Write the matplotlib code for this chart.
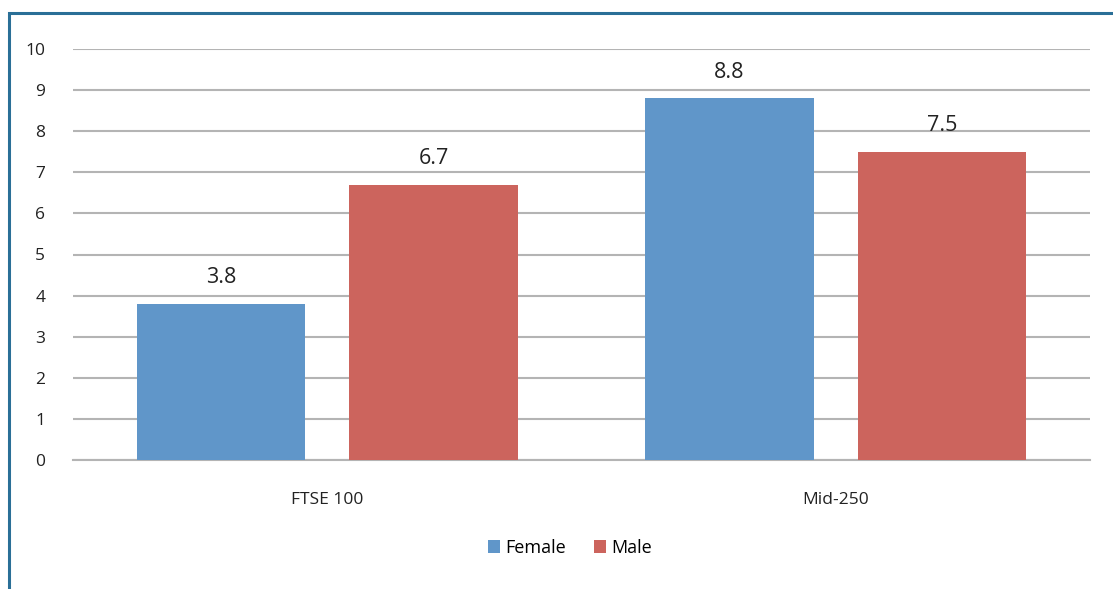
import numpy as np
import matplotlib.pyplot as plt
from matplotlib.patches import Rectangle

plt.rcParams['font.family'] = ['Open Sans', 'DejaVu Sans']

categories = ['FTSE 100', 'Mid-250']
female = [3.8, 8.8]
male = [6.7, 7.5]
series_names = ['Female', 'Male']

blue = '#6096c9'
red = '#cc645d'

fig = plt.figure(figsize=(11.13, 5.89), dpi=100)
ax = fig.add_axes([73 / 1113, 1 - 460 / 589, 1017 / 1113, 411 / 589])

x = np.arange(len(categories))
w = 0.332
b1 = ax.bar(x - 0.209, female, w, color=blue, label=series_names[0], zorder=3)
b2 = ax.bar(x + 0.209, male, w, color=red, label=series_names[1], zorder=3)

for bars, vals in [(b1, female), (b2, male)]:
    for rect, v in zip(bars, vals):
        ax.text(rect.get_x() + rect.get_width() / 2, v + 0.38, f'{v}',
                ha='center', va='bottom', fontsize=15.5, color='#222222')

ax.set_xlim(-0.5, 1.5)
ax.set_ylim(0, 10)
ax.set_yticks(range(0, 11))
ax.yaxis.grid(True, color='#b4b4b4', linewidth=1.5, zorder=0)
ax.set_xticks(x)
ax.set_xticklabels(categories)
ax.tick_params(axis='both', length=0, labelsize=12.5, colors='#222222')
ax.tick_params(axis='x', pad=23)
ax.tick_params(axis='y', pad=20)
for s in ['top', 'right', 'left']:
    ax.spines[s].set_visible(False)
ax.spines['bottom'].set_color('#b4b4b4')
ax.spines['bottom'].set_linewidth(1.5)

fig.legend(handles=[b1, b2], labels=series_names, loc='center',
           bbox_to_anchor=(570 / 1113, 1 - 548 / 589), ncol=2, frameon=False,
           fontsize=13, handlelength=0.7, handleheight=0.7, handletextpad=0.3,
           columnspacing=1.5)

# outer border (left and top edges of the chart frame)
fig.add_artist(Rectangle((9 / 1113, -0.1), 1.2, 1 - 12.5 / 589 + 0.1,
                         transform=fig.transFigure, fill=False,
                         edgecolor='#2a6f97', linewidth=2.2))

fig.savefig('out.png', dpi=100)
